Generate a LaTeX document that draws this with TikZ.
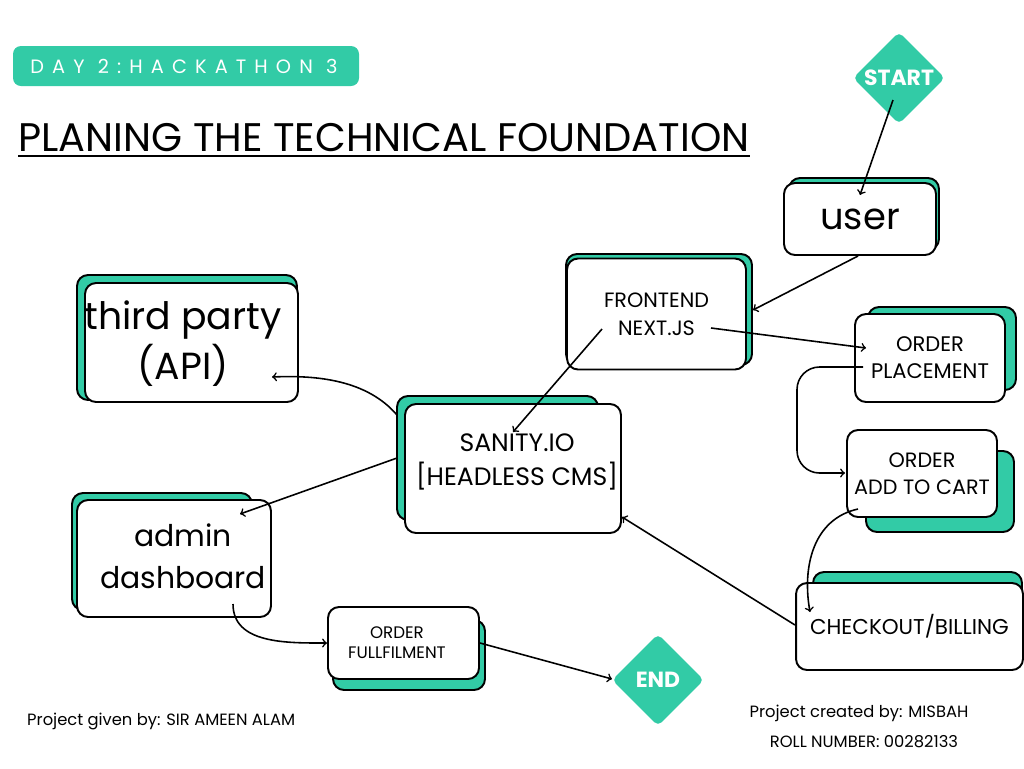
\documentclass[tikz,border=0pt]{standalone}
\usepackage{fontspec}
\setmainfont{Poppins}
\newfontfamily\spacedfont[LetterSpace=42]{Poppins}
\usepackage{tikz}
\usetikzlibrary{positioning,calc,shapes.geometric}

\definecolor{mint}{RGB}{50,203,166}

\tikzset{
  card/.style={draw=black, line width=1.1pt, fill=white, rounded corners=0.22cm, align=center, inner sep=0pt},
  backcard/.style={draw=black, line width=1.1pt, fill=mint, rounded corners=0.22cm, inner sep=0pt},
  cardtext/.style={align=center, inner sep=0pt},
  flag/.style={diamond, fill=mint, rounded corners=0.1cm, minimum width=1.84cm, minimum height=1.84cm, inner sep=0pt, text=white, font=\fontsize{12.5}{14}\selectfont\bfseries},
  link/.style={->, line width=0.9pt},
  credit/.style={font=\fontsize{9.3}{11}\selectfont},
}

\begin{document}
\begin{tikzpicture}[x=0.02cm, y=-0.02cm]

\useasboundingbox (0,0) rectangle (1024,768);

% ============================
% HEADER
% ============================

\fill[mint, rounded corners=0.16cm] (13,46) rectangle (359,86);
\node[text=white, font=\spacedfont\fontsize{11}{13}\selectfont] (daytag) at (184,66) {DAY 2:HACKATHON 3};

\node[anchor=base west, inner sep=0pt, font=\fontsize{22.7}{27}\selectfont] (title) at (18,151) {PLANING THE TECHNICAL FOUNDATION};
\draw[line width=1.2pt] ($(title.base west)+(0,5)$) -- ($(title.base east)+(0,5)$);

% ============================
% START / END
% ============================

\node[flag] (startflag) at (899,78) {START};
\node[flag] (endflag) at (658,680) {END};

% ============================
% CARDS (BACK FIRST, THEN FRONT)
% ============================

\node[backcard, minimum width=3.00cm, minimum height=1.44cm] (userback) at (864,214) {};
\node[card, minimum width=3.04cm, minimum height=1.44cm, font=\fontsize{21}{26}\selectfont] (user) at (860,219) {user};

\node[backcard, minimum width=3.72cm, minimum height=2.22cm] (frontendback) at (659,309.5) {};
\node[card, minimum width=3.58cm, minimum height=2.22cm, font=\fontsize{11.8}{16}\selectfont] (frontend) at (656.5,314) {FRONTEND\\NEXT.JS};

\node[backcard, minimum width=2.96cm, minimum height=1.66cm] (placementback) at (942,348.5) {};
\node[card, minimum width=3.00cm, minimum height=1.76cm, font=\fontsize{12}{15.5}\selectfont] (placement) at (930,358) {ORDER\\PLACEMENT};

\node[backcard, minimum width=4.40cm, minimum height=2.50cm] (thirdback) at (187,337.5) {};
\node[card, minimum width=4.26cm, minimum height=2.38cm] (third) at (191.5,342.5) {};
\node[cardtext, font=\fontsize{21.5}{28.5}\selectfont] (thirdtext) at (183,344) {third party\\(API)};

\node[backcard, minimum width=4.02cm, minimum height=2.48cm] (sanityback) at (497.5,458) {};
\node[card, minimum width=4.32cm, minimum height=2.58cm] (sanity) at (513,468.5) {};
\node[cardtext, font=\fontsize{14.3}{19}\selectfont] (sanitytext) at (517,462) {SANITY.IO\\{[HEADLESS CMS]}};

\node[backcard, minimum width=3.60cm, minimum height=2.34cm] (adminback) at (162,551.5) {};
\node[card, minimum width=3.88cm, minimum height=2.34cm] (admin) at (174,558.5) {};
\node[cardtext, font=\fontsize{17}{24}\selectfont] (admintext) at (183,556) {admin\\dashboard};

\node[backcard, minimum width=3.04cm, minimum height=1.40cm] (fulfilback) at (409,655) {};
\node[card, minimum width=3.02cm, minimum height=1.44cm] (fulfil) at (403.5,643) {};
\node[cardtext, font=\fontsize{9.5}{11.5}\selectfont] (fulfiltext) at (397,643) {ORDER\\FULLFILMENT};

\node[backcard, minimum width=2.96cm, minimum height=1.62cm] (cartback) at (940,491.5) {};
\node[card, minimum width=3.00cm, minimum height=1.74cm, font=\fontsize{11.8}{15.5}\selectfont] (cart) at (922,473.5) {ORDER\\ADD TO CART};

\node[backcard, minimum width=4.18cm, minimum height=1.36cm] (checkoutback) at (917.5,606) {};
\node[card, minimum width=4.54cm, minimum height=1.74cm, font=\fontsize{12.2}{15}\selectfont] (checkout) at (909.5,626.5) {CHECKOUT/BILLING};

% ============================
% CONNECTORS
% ============================

\draw[link] ($(startflag)+(-6,22)$) -- ($(user)+(0,-24)$);
\draw[link] ($(user)+(-2,37)$) -- ($(frontend)+(96.5,-4)$);
\draw[link] ($(frontend)+(54.5,14)$) -- ($(placement)+(-64,-10)$);
\draw[link] ($(frontend)+(-54.5,15)$) -- ($(sanity)+(0,-36.5)$);
\draw[link, rounded corners=0.45cm] ($(placement)+(-67,9)$) -| ($(cart)+(-125,-0.5)$) -- ($(cart)+(-77,-0.5)$);
\draw[link] ($(cart)+(-64,35.5)$) .. controls +(-45,10) and +(-8,-45) .. ($(checkout)+(-99.5,-14.5)$);
\draw[link] ($(checkout)+(-114.5,-1.5)$) -- ($(sanity)+(109,48.5)$);
\draw[link] ($(sanity)+(-116,-53.5)$) .. controls +(-30,-35) and +(45,-2) .. ($(third)+(80.5,34.5)$);
\draw[link] ($(sanity)+(-116,-10.5)$) -- ($(admin)+(66,-44.5)$);
\draw[link] ($(admin)+(59,45.5)$) .. controls +(0,40) and +(-40,0) .. ($(fulfil)+(-76.5,0)$);
\draw[link] ($(fulfil)+(76.5,0)$) -- ($(endflag)+(-46,-1)$);

% ============================
% FOOTER
% ============================

\node[credit, anchor=west] (givenby) at (21,721) {Project given by: SIR AMEEN ALAM};
\node[credit] (createdby) at (859,713) {Project created by: MISBAH};
\node[credit] (rollno) at (864,742) {ROLL NUMBER: 00282133};

\end{tikzpicture}
\end{document}
